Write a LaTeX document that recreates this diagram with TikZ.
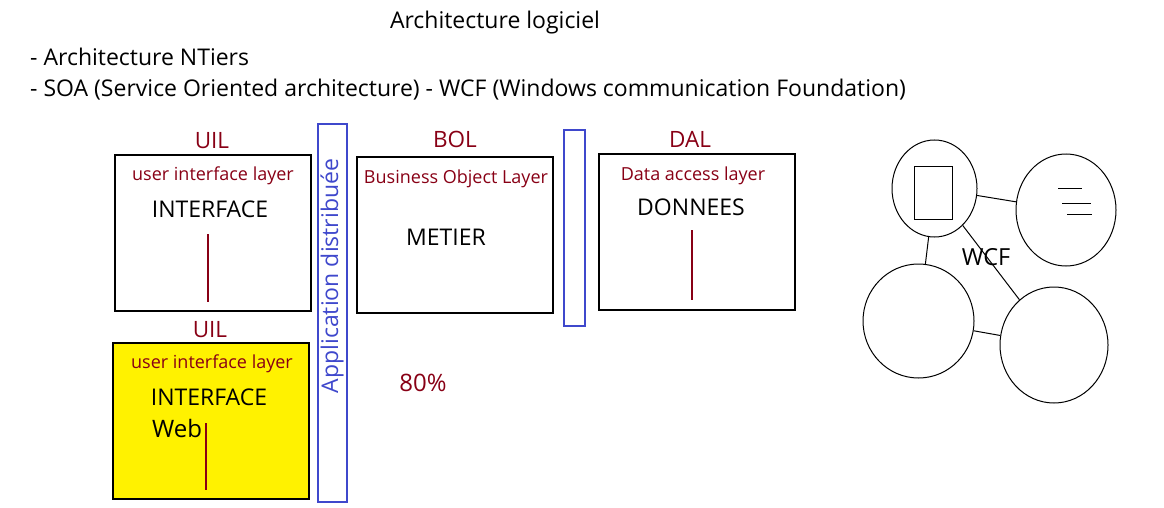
\documentclass[tikz,border=0pt]{standalone}
\usepackage{fontspec}
\setmainfont{Open Sans}
\usetikzlibrary{shapes.geometric}
\definecolor{dred}{RGB}{136,0,21}
\definecolor{indigo}{RGB}{63,72,204}
\definecolor{pyellow}{RGB}{255,242,0}
\newcommand{\fs}[1]{\fontsize{#1}{#1}\selectfont}
\tikzset{
  layerbox/.style={draw=black, line width=1.2pt, minimum width=196pt, minimum height=156pt, inner sep=0pt},
  bluebar/.style={draw=indigo, line width=1.2pt, inner sep=0pt},
  lbl/.style={text=dred, font=\fs{22.5}, inner sep=0pt},
  sub/.style={text=dred, font=\fs{18}, inner sep=0pt},
  big/.style={text=black, font=\fs{23}, inner sep=0pt},
  plain/.style={text=black, font=\fs{23}, inner sep=0pt},
  vline/.style={draw=dred, line width=1.2pt},
  ell/.style={draw=black, line width=1pt, ellipse, inner sep=0pt},
  link/.style={draw=black, line width=1pt}
}
\begin{document}
\begin{tikzpicture}[x=1pt,y=-1pt]
\useasboundingbox (0,0) rectangle (1164,508);
% header
\node[plain] (title) at (495,23) {Architecture logiciel};
\node[plain, anchor=west] (l1) at (30,57) {- Architecture NTiers};
\node[plain, anchor=west] (l2) at (30,89.5) {- SOA (Service Oriented architecture) - WCF (Windows communication Foundation)};
% UIL top
\node[lbl] (uil1) at (212,141) {UIL};
\node[layerbox] (box1) at (213,233) {};
\node[sub] (s1) at (213,176) {user interface layer};
\node[big] (i1) at (210,209) {INTERFACE};
\coordinate (v1a) at (208,234); \coordinate (v1b) at (208,302);
\draw[vline] (v1a) -- (v1b);
% UIL bottom (web)
\node[lbl] (uil2) at (210,330) {UIL};
\node[layerbox, fill=pyellow] (box2) at (211,421) {};
\node[sub] (s2) at (212,364) {user interface layer};
\node[big] (i2) at (209,397) {INTERFACE};
\node[big, font=\fs{24}] (web) at (177,428) {Web};
\coordinate (v2a) at (206,423); \coordinate (v2b) at (206,490);
\draw[vline] (v2a) -- (v2b);
% distributed application bar
\node[bluebar, minimum width=29pt, minimum height=378pt] (bar1) at (332.5,313) {};
\node[text=indigo, font=\fs{23}, rotate=90, inner sep=0pt] (app) at (332,276) {Application distribuée};
% BOL
\node[lbl] (bol) at (455,139) {BOL};
\node[layerbox] (box3) at (455,235) {};
\node[sub] (s3) at (456,179) {Business Object Layer};
\node[big] (met) at (446,237) {METIER};
% thin bar
\node[bluebar, minimum width=21pt, minimum height=196pt] (bar2) at (574.5,228) {};
% DAL
\node[lbl] (dal) at (690,139) {DAL};
\node[layerbox] (box4) at (697,232) {};
\node[sub] (s4) at (693,176) {Data access layer};
\node[big] (don) at (691,207) {DONNEES};
\coordinate (v4a) at (692,230); \coordinate (v4b) at (692,300);
\draw[vline] (v4a) -- (v4b);
% 80%
\node[text=dred, font=\fs{24}, inner sep=0pt] (pct) at (423,383) {80\%};
% WCF
\node[ell, minimum width=85pt, minimum height=97pt] (ca) at (934.5,188.5) {};
\node[draw=black, line width=1pt, minimum width=38pt, minimum height=53pt, inner sep=0pt] (doc) at (933,192.5) {};
\node[ell, minimum width=100pt, minimum height=112pt] (cb) at (1066,210) {};
\coordinate (b1a) at (1058,188); \coordinate (b1b) at (1082,188);
\coordinate (b2a) at (1062,203); \coordinate (b2b) at (1091,203);
\coordinate (b3a) at (1067,214); \coordinate (b3b) at (1092,214);
\draw[link] (b1a) -- (b1b);
\draw[link] (b2a) -- (b2b);
\draw[link] (b3a) -- (b3b);
\node[ell, minimum width=111pt, minimum height=114pt] (cc) at (918.5,321) {};
\node[ell, minimum width=108pt, minimum height=116pt] (cd) at (1054,345) {};
\node[text=black, font=\fs{23.5}, inner sep=0pt] (wcf) at (986,257) {WCF};
\draw[link] (ca) -- (cb);
\draw[link] (ca) -- (cc);
\draw[link] (ca) -- (cd);
\draw[link] (cc) -- (cd);
\end{tikzpicture}
\end{document}
